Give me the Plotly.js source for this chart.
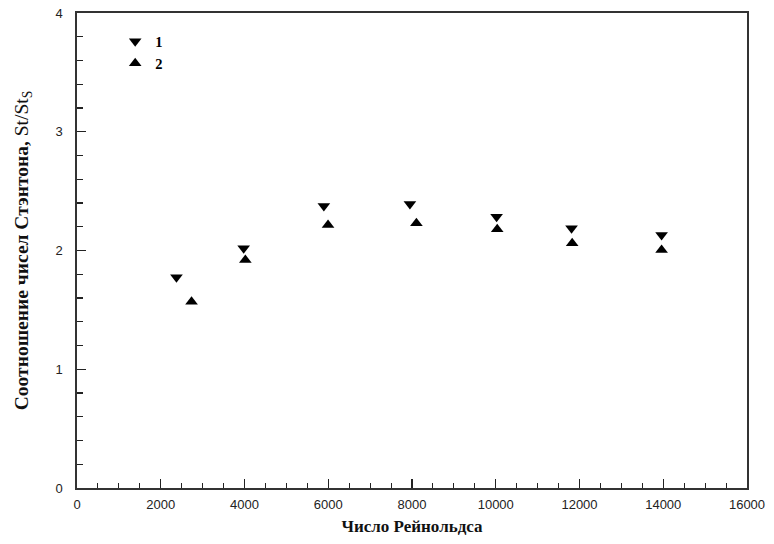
<!DOCTYPE html>
<html>
<head>
<meta charset="utf-8">
<script src="https://cdn.plot.ly/plotly-3.0.1.min.js"></script>
<style>
html,body{margin:0;padding:0;background:#fff;}
#chart{width:774px;height:544px;}
</style>
</head>
<body>
<div id="chart"></div>
<script>
// Series 1 (down triangles)
var re1 = [2375, 3980, 5895, 7950, 10020, 11810, 13960];
var st1 = [1.775, 2.018, 2.374, 2.391, 2.284, 2.187, 2.130];
// Series 2 (up triangles)
var re2 = [2735, 4020, 5995, 8105, 10035, 11825, 13960];
var st2 = [1.569, 1.920, 2.214, 2.229, 2.178, 2.061, 2.004];
var seriesNames = ['1', '2'];
var xTickVals = [0, 2000, 4000, 6000, 8000, 10000, 12000, 14000, 16000];
var xTickText = ['0', '2000', '4000', '6000', '8000', '10000', '12000', '14000', '16000'];
var yTickVals = [0, 1, 2, 3, 4];
var yTickText = ['0', '1', '2', '3', '4'];

var traces = [
  {x: re1, y: st1, name: seriesNames[0], type: 'scatter', mode: 'markers',
   marker: {symbol: 'triangle-down', size: 11, color: '#000'}},
  {x: re2, y: st2, name: seriesNames[1], type: 'scatter', mode: 'markers',
   marker: {symbol: 'triangle-up', size: 11, color: '#000'}}
];

var axisCommon = {
  showgrid: false, zeroline: false, showline: true, mirror: true,
  linecolor: '#333', linewidth: 1.6,
  ticks: 'inside', ticklen: 9, tickwidth: 1.3, tickcolor: '#222',
  tickfont: {family: 'Liberation Sans, Arial, sans-serif', size: 13, color: '#222'}
};

var layout = {
  width: 774, height: 544,
  paper_bgcolor: '#fff', plot_bgcolor: '#fff',
  margin: {l: 77, r: 27, t: 13, b: 56},
  showlegend: true,
  legend: {x: 0.057, y: 0.974, xanchor: 'left', yanchor: 'top',
    bgcolor: 'rgba(0,0,0,0)', itemwidth: 30, tracegroupgap: 0,
    font: {family: 'Liberation Serif, Times New Roman, serif', size: 14.5, color: '#000', weight: 'bold'}},
  xaxis: Object.assign({}, axisCommon, {
    range: [0, 16000], tickvals: xTickVals, ticktext: xTickText, ticklabelstandoff: 4,
    minor: {dtick: 500, ticks: 'inside', ticklen: 5, tickcolor: '#222', tickwidth: 1.1},
    title: {text: 'Число Рейнольдса', standoff: 9,
      font: {family: 'Liberation Serif, Times New Roman, serif', size: 17, color: '#111', weight: 'bold'}}
  }),
  yaxis: Object.assign({}, axisCommon, {
    range: [0, 4], tickvals: yTickVals, ticktext: yTickText, ticklabelstandoff: 10,
    minor: {dtick: 0.2, ticks: 'inside', ticklen: 6, tickcolor: '#222', tickwidth: 1.1},
    title: {text: '<b>Соотношение чисел Стэнтона,</b> St/St<sub>S</sub>', standoff: 22,
      font: {family: 'Liberation Serif, Times New Roman, serif', size: 19.5, color: '#111'}}
  })
};

Plotly.newPlot('chart', traces, layout, {displayModeBar: false, staticPlot: true});
</script>
</body>
</html>
